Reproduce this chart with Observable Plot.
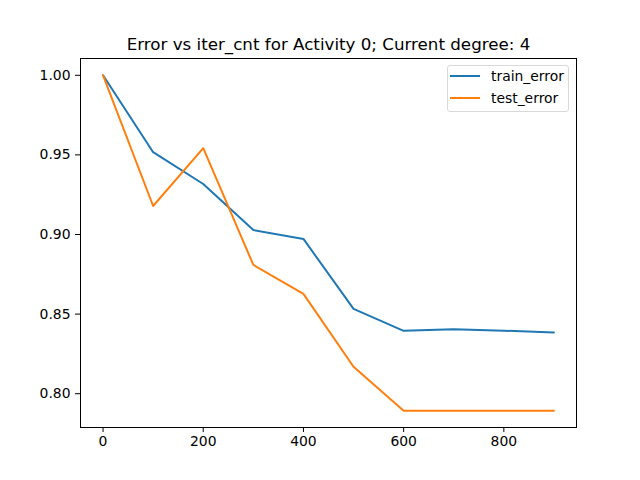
<!DOCTYPE html>
<html>
<head>
<meta charset="utf-8">
<script src="https://cdn.jsdelivr.net/npm/d3@7"></script>
<script src="https://cdn.jsdelivr.net/npm/@observablehq/plot@0.6"></script>
<style>
  body { margin: 0; background: #fff; }
  #chart { position: relative; width: 640px; height: 480px; font-family: "DejaVu Sans", sans-serif; }
  #legend {
    position: absolute; left: 447px; top: 65px; width: 120px; height: 45px;
    border: 1px solid #d9d9d9; border-radius: 3px; background: rgba(255,255,255,0.8);
    font-size: 13.9px; color: #000;
  }
  #legend .row { position: absolute; left: 2px; height: 20px; display: flex; align-items: center; }
  #legend .sw { width: 30px; height: 2px; margin-right: 11px; }
</style>
</head>
<body>
<div id="chart"></div>
<script>
const iterCnt = [0, 100, 200, 300, 400, 500, 600, 700, 800, 900];
const trainError = [1.0, 0.9517, 0.9317, 0.9028, 0.8972, 0.8533, 0.8395, 0.8405, 0.8396, 0.8384];
const testError = [1.0, 0.9179, 0.9542, 0.8809, 0.8627, 0.8169, 0.7893, 0.7893, 0.7893, 0.7893];
const seriesNames = ["train_error", "test_error"];
const seriesColors = ["#1f77b4", "#ff7f0e"];
const xTicks = [0, 200, 400, 600, 800];
const yTicks = [0.80, 0.85, 0.90, 0.95, 1.00];

const rows = iterCnt.flatMap((x, i) => [
  {x, y: trainError[i], s: seriesNames[0]},
  {x, y: testError[i], s: seriesNames[1]}
]);

const chart = Plot.plot({
  width: 640,
  height: 480,
  marginLeft: 80,
  marginRight: 64,
  marginTop: 58,
  marginBottom: 53,
  style: {fontFamily: "DejaVu Sans", fontSize: "13.9px", color: "#000", background: "#fff"},
  x: {domain: [-45, 945], ticks: xTicks, tickSize: 5, tickPadding: 4, label: null},
  y: {domain: [0.77878, 1.01054], ticks: yTicks, tickFormat: d3.format(".2f"), tickSize: 5, tickPadding: 5, label: null},
  color: {domain: seriesNames, range: seriesColors},
  marks: [
    Plot.line(rows, {x: "x", y: "y", z: "s", stroke: "s", strokeWidth: 2}),
    Plot.frame({stroke: "#000", strokeWidth: 1}),
    Plot.text(["Error vs iter_cnt for Activity 0; Current degree: 4"], {
      frameAnchor: "top", dy: -9, lineAnchor: "bottom", text: d => d, fontSize: 16.7, fill: "#000"
    })
  ]
});

const root = document.getElementById("chart");
root.appendChild(chart);

const legend = document.createElement("div");
legend.id = "legend";
seriesNames.forEach((name, i) => {
  const row = document.createElement("div");
  row.className = "row";
  row.style.top = (i * 22 + 0) + "px";
  const sw = document.createElement("div");
  sw.className = "sw";
  sw.style.background = seriesColors[i];
  const label = document.createElement("span");
  label.textContent = name;
  row.appendChild(sw);
  row.appendChild(label);
  legend.appendChild(row);
});
root.appendChild(legend);
</script>
</body>
</html>
